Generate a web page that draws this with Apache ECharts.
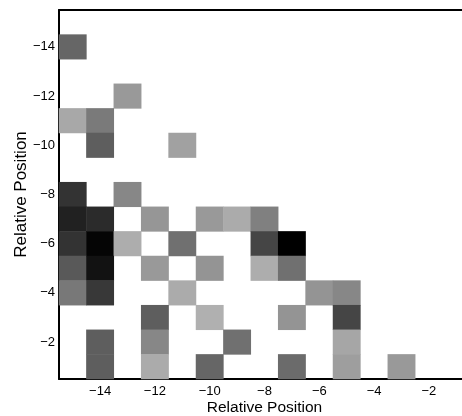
<!DOCTYPE html>
<html>
<head>
<meta charset="utf-8">
<script src="https://cdn.jsdelivr.net/npm/echarts@6/dist/echarts.min.js"></script>
<style>
html,body{margin:0;padding:0;background:#fff;}
#main{width:462px;height:416px;}
</style>
</head>
<body>
<div id="main"></div>
<script>
// categories (relative positions)
var xCats = [-15,-14,-13,-12,-11,-10,-9,-8,-7,-6,-5,-4,-3,-2,-1];
var yCats = [-15,-14,-13,-12,-11,-10,-9,-8,-7,-6,-5,-4,-3,-2,-1];
// non-empty cells: x, y, darkness (0 = white, 1 = black)
var cellX = [-15,-13,-15,-14,-14,-11,-15,-13,-15,-14,-12,-10,-9,-8,-15,-14,-13,-11,-8,-7,-15,-14,-12,-10,-8,-7,-15,-14,-11,-6,-5,-12,-10,-7,-5,-14,-12,-9,-5,-14,-12,-10,-7,-5,-3];
var cellY = [-14,-12,-11,-11,-10,-10,-8,-8,-7,-7,-7,-7,-7,-7,-6,-6,-6,-6,-6,-6,-5,-5,-5,-5,-5,-5,-4,-4,-4,-4,-4,-3,-3,-3,-3,-2,-2,-2,-2,-1,-1,-1,-1,-1,-1];
var cellV = [0.60,0.40,0.34,0.52,0.63,0.37,0.80,0.47,0.87,0.83,0.41,0.40,0.33,0.50,0.80,0.98,0.32,0.56,0.73,1.00,0.65,0.93,0.40,0.42,0.32,0.56,0.53,0.78,0.33,0.42,0.47,0.63,0.31,0.42,0.73,0.63,0.47,0.56,0.35,0.63,0.33,0.60,0.58,0.38,0.40];

var data = [];
for(var i = 0;i < cellV.length;i++){
	data.push([xCats.indexOf(cellX[i]), yCats.indexOf(cellY[i]), cellV[i]]);
}

var even = function(idx, val){ return Number(val) % 2 === 0; };
var minus = function(val){ return String(val).replace('-', '\u2212'); };
var font = 'Liberation Sans, Arial, sans-serif';

var myChart = echarts.init(document.getElementById('main'));
var option = {
	animation: false,
	grid: {left: 59, top: 10, right: -8, bottom: 37, containLabel: false, outerBoundsMode: 'none'},
	visualMap: {
		show: false, min: 0, max: 1,
		inRange: {color: ['#ffffff', '#000000']}
	},
	xAxis: [
		{
			type: 'category', data: xCats, position: 'bottom',
			name: 'Relative Position', nameLocation: 'middle', nameGap: 21, nameMoveOverlap: false,
			nameTextStyle: {color: '#000', fontSize: 15.5, fontFamily: font},
			axisLine: {lineStyle: {color: '#000', width: 2}},
			axisTick: {inside: true, length: 5, alignWithLabel: true, interval: even, lineStyle: {color: '#000'}},
			axisLabel: {interval: even, formatter: minus, color: '#000', fontSize: 13, fontFamily: font, margin: 6},
			splitLine: {show: false}
		},
		{
			type: 'category', data: xCats, position: 'top',
			axisLine: {lineStyle: {color: '#000', width: 2}},
			axisTick: {inside: true, length: 5, alignWithLabel: true, interval: even, lineStyle: {color: '#000'}},
			axisLabel: {show: false},
			splitLine: {show: false}
		}
	],
	yAxis: {
		type: 'category', data: yCats, inverse: true,
		name: 'Relative Position', nameLocation: 'middle', nameGap: 29, nameMoveOverlap: false,
		nameTextStyle: {color: '#000', fontSize: 17, fontFamily: font},
		axisLine: {lineStyle: {color: '#000', width: 2}},
		axisTick: {inside: true, length: 5, alignWithLabel: true, interval: even, lineStyle: {color: '#000'}},
		axisLabel: {interval: even, formatter: minus, color: '#000', fontSize: 13, fontFamily: font, margin: 4},
		splitLine: {show: false}
	},
	series: [{
		type: 'heatmap',
		xAxisIndex: 0,
		data: data,
		itemStyle: {borderWidth: 0}
	}]
};
myChart.setOption(option);
</script>
</body>
</html>
